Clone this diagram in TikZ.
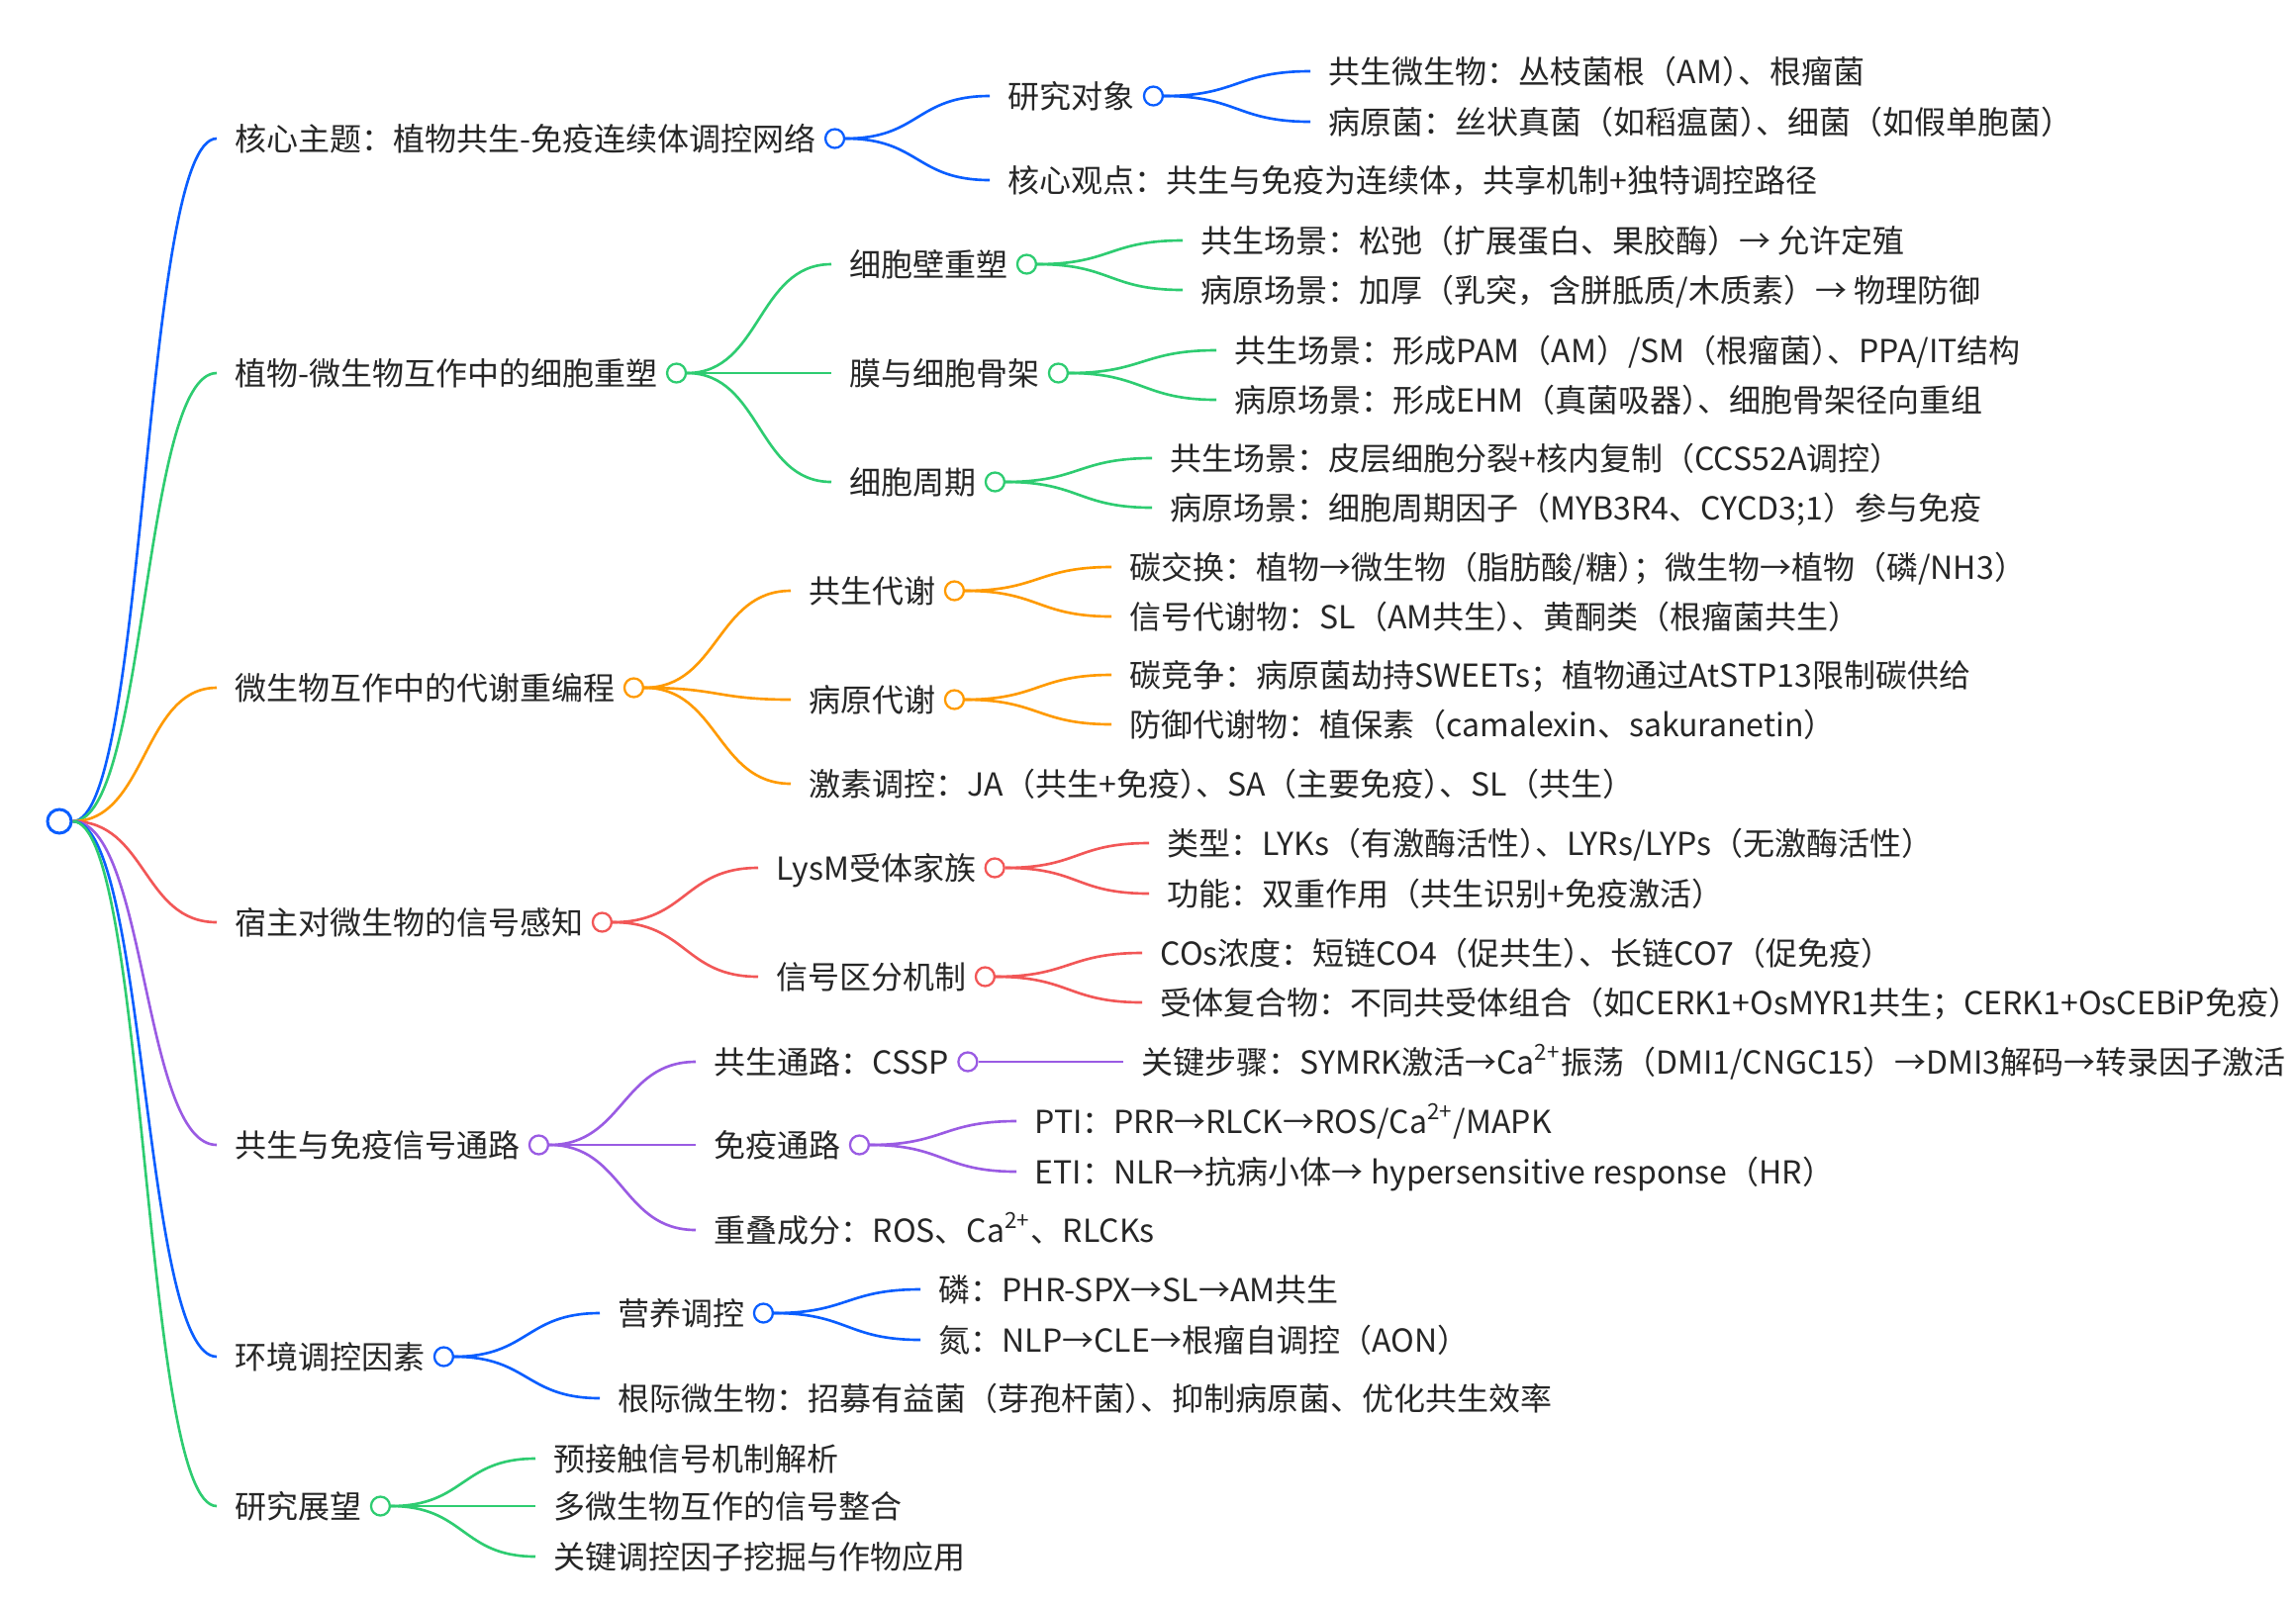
\documentclass[tikz,border=0pt]{standalone}
\usepackage{fontspec}
\setmainfont{Noto Sans CJK SC}
\usetikzlibrary{positioning}
\definecolor{mapblue}{HTML}{0A5EFF}
\definecolor{mapgreen}{HTML}{2ECC71}
\definecolor{maporange}{HTML}{FF9A00}
\definecolor{mapred}{HTML}{F25757}
\definecolor{mappurple}{HTML}{9A5BE3}
% one branch: from a knob to the west end of a label
\newcommand{\bough}[3]{\draw[twig=#1] (#2.east) .. controls +(75,0) and +(-75,0) .. (#3.west);}
% half-width closing bracket before a comma
\newcommand{\cb}{）\kern-.5em}

\begin{document}
\begin{tikzpicture}[x=0.01cm,y=-0.01cm,
  lbl/.style={anchor=west,inner xsep=0.18cm,inner ysep=0pt,text height=8pt,text depth=1.1pt,
    font=\fontsize{9.1pt}{11pt}\selectfont,text=black!85},
  knob/.style={circle,draw=#1,fill=white,inner sep=0pt,minimum size=0.19cm,line width=0.65pt},
  twig/.style={#1,line width=0.75pt}]
  \useasboundingbox (0,0) rectangle (2320,1623);
  % root
  \node[knob=mapblue,minimum size=0.24cm,line width=0.85pt] (root) at (60,830) {};
  % first level
  \node[lbl] (t1) at (219,140) {核心主题：植物共生-免疫连续体调控网络};
  \node[lbl] (t2) at (219,377) {植物-微生物互作中的细胞重塑};
  \node[lbl] (t3) at (219,695) {微生物互作中的代谢重编程};
  \node[lbl] (t4) at (219,932) {宿主对微生物的信号感知};
  \node[lbl] (t5) at (219,1157) {共生与免疫信号通路};
  \node[lbl] (t6) at (219,1371) {环境调控因素};
  \node[lbl] (t7) at (219,1522) {研究展望};
  % second level
  \node[lbl] (t1a) at (1000,97) {研究对象};
  \node[lbl] (t1b) at (1000,182) {核心观点：共生与免疫为连续体，共享机制+独特调控路径};
  \node[lbl] (t2a) at (840,267) {细胞壁重塑};
  \node[lbl] (t2b) at (840,377) {膜与细胞骨架};
  \node[lbl] (t2c) at (840,487) {细胞周期};
  \node[lbl] (t3a) at (799,597) {共生代谢};
  \node[lbl] (t3b) at (799,707) {病原代谢};
  \node[lbl] (t3c) at (799,792) {激素调控：JA（共生+免疫\cb、SA（主要免疫\cb、SL（共生）};
  \node[lbl] (t4a) at (766,877) {LysM受体家族};
  \node[lbl] (t4b) at (766,987) {信号区分机制};
  \node[lbl] (t5a) at (703,1073) {共生通路：CSSP};
  \node[lbl] (t5b) at (703,1157) {免疫通路};
  \node[lbl] (t5c) at (703,1243) {重叠成分：ROS、Ca\textsuperscript{2+}、RLCKs};
  \node[lbl] (t6a) at (606,1327) {营养调控};
  \node[lbl] (t6b) at (606,1413) {根际微生物：招募有益菌（芽孢杆菌\cb、抑制病原菌、优化共生效率};
  \node[lbl] (t7a) at (541,1474) {预接触信号机制解析};
  \node[lbl] (t7b) at (541,1522) {多微生物互作的信号整合};
  \node[lbl] (t7c) at (541,1573) {关键调控因子挖掘与作物应用};
  % third level
  \node[lbl] (t1a1) at (1324,72) {共生微生物：丛枝菌根（AM\cb、根瘤菌};
  \node[lbl] (t1a2) at (1324,123) {病原菌：丝状真菌（如稻瘟菌\cb、细菌（如假单胞菌）};
  \node[lbl] (t2a1) at (1195,243) {共生场景：松弛（扩展蛋白、果胶酶）→ 允许定殖};
  \node[lbl] (t2a2) at (1195,293) {病原场景：加厚（乳突，含胼胝质/木质素）→ 物理防御};
  \node[lbl] (t2b1) at (1229,354) {共生场景：形成PAM（AM）/SM（根瘤菌\cb、PPA/IT结构};
  \node[lbl] (t2b2) at (1229,404) {病原场景：形成EHM（真菌吸器\cb、细胞骨架径向重组};
  \node[lbl] (t2c1) at (1164,463) {共生场景：皮层细胞分裂+核内复制（CCS52A调控）};
  \node[lbl] (t2c2) at (1164,513) {病原场景：细胞周期因子（MYB3R4、CYCD3;1）参与免疫};
  \node[lbl] (t3a1) at (1123,573) {碳交换：植物→微生物（脂肪酸/糖\cb；微生物→植物（磷/NH3）};
  \node[lbl] (t3a2) at (1123,623) {信号代谢物：SL（AM共生\cb、黄酮类（根瘤菌共生）};
  \node[lbl] (t3b1) at (1123,682) {碳竞争：病原菌劫持SWEETs；植物通过AtSTP13限制碳供给};
  \node[lbl] (t3b2) at (1123,732) {防御代谢物：植保素（camalexin、sakuranetin）};
  \node[lbl] (t4a1) at (1161,852) {类型：LYKs（有激酶活性\cb、LYRs/LYPs（无激酶活性）};
  \node[lbl] (t4a2) at (1161,903) {功能：双重作用（共生识别+免疫激活）};
  \node[lbl] (t4b1) at (1154,963) {COs浓度：短链CO4（促共生\cb、长链CO7（促免疫）};
  \node[lbl] (t4b2) at (1154,1013) {受体复合物：不同共受体组合（如CERK1+OsMYR1共生；CERK1+OsCEBiP免疫）};
  \node[lbl] (t5a1) at (1135,1073) {关键步骤：SYMRK激活→Ca\textsuperscript{2+}振荡（DMI1/CNGC15）→DMI3解码→转录因子激活};
  \node[lbl] (t5b1) at (1027,1133) {PTI：PRR→RLCK→ROS/Ca\textsuperscript{2+}/MAPK};
  \node[lbl] (t5b2) at (1027,1184) {ETI：NLR→抗病小体→ hypersensitive response（HR）};
  \node[lbl] (t6a1) at (930,1303) {磷：PHR-SPX→SL→AM共生};
  \node[lbl] (t6a2) at (930,1354) {氮：NLP→CLE→根瘤自调控（AON）};
  % knobs behind the labels that have children
  \foreach \n/\c in {t1/mapblue,t1a/mapblue,t2/mapgreen,t2a/mapgreen,t2b/mapgreen,t2c/mapgreen,
      t3/maporange,t3a/maporange,t3b/maporange,t4/mapred,t4a/mapred,t4b/mapred,
      t5/mappurple,t5a/mappurple,t5b/mappurple,t6/mapblue,t6a/mapblue,t7/mapgreen}
    \node[knob=\c] (\n o) at (\n.east) {};
  % branches
  \foreach \n/\c in {1/mapblue,2/mapgreen,3/maporange,4/mapred,5/mappurple,6/mapblue,7/mapgreen}
    \bough{\c}{root}{t\n};
  \foreach \k in {a,b} \bough{mapblue}{t1o}{t1\k};
  \foreach \k in {1,2} \bough{mapblue}{t1ao}{t1a\k};
  \foreach \k in {a,b,c} \bough{mapgreen}{t2o}{t2\k};
  \foreach \p in {a,b,c}
    \foreach \k in {1,2} \bough{mapgreen}{t2\p o}{t2\p\k};
  \foreach \k in {a,b,c} \bough{maporange}{t3o}{t3\k};
  \foreach \p in {a,b}
    \foreach \k in {1,2} \bough{maporange}{t3\p o}{t3\p\k};
  \foreach \k in {a,b} \bough{mapred}{t4o}{t4\k};
  \foreach \p in {a,b}
    \foreach \k in {1,2} \bough{mapred}{t4\p o}{t4\p\k};
  \foreach \k in {a,b,c} \bough{mappurple}{t5o}{t5\k};
  \bough{mappurple}{t5ao}{t5a1};
  \foreach \k in {1,2} \bough{mappurple}{t5bo}{t5b\k};
  \foreach \k in {a,b} \bough{mapblue}{t6o}{t6\k};
  \foreach \k in {1,2} \bough{mapblue}{t6ao}{t6a\k};
  \foreach \k in {a,b,c} \bough{mapgreen}{t7o}{t7\k};
\end{tikzpicture}
\end{document}
